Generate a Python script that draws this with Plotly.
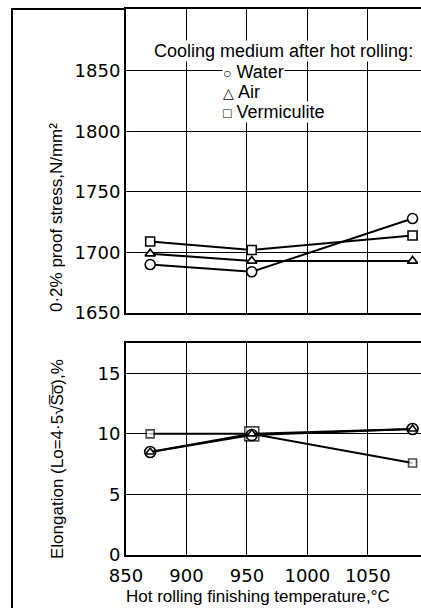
import plotly.graph_objects as go

# ---- data ----
temperature = [870, 954, 1087]

proof_water = [1690, 1684, 1728]
proof_air = [1699, 1693, 1693]
proof_verm = [1709, 1702, 1714]

elong_water = [8.5, 9.9, 10.4]
elong_air = [8.5, 10.0, 10.4]
elong_verm = [10.0, 10.0, 7.6]

x_ticks = [850, 900, 950, 1000, 1050]
proof_ticks = [1650, 1700, 1750, 1800, 1850]
elong_ticks = [0, 5, 10, 15]

legend_title = "Cooling medium after hot rolling:"
legend_symbols = ["○", "△", "□"]
legend_names = ["Water", "Air", "Vermiculite"]

# ---- layout geometry (pixels) ----
W, H = 421, 608
L, R, T, B = 126, 0, 9, 53
PW, PH = W - L - R, H - T - B


def px(xp):
    return (xp - L) / PW


def py(yp):
    return (H - B - yp) / PH


top_dom = [py(313), 1.0]
bot_dom = [0.0, py(343)]

fig = go.Figure()


def add(x, y, symbol, size, xa, ya):
    fig.add_trace(go.Scatter(
        x=x, y=y, mode="lines+markers", xaxis=xa, yaxis=ya,
        line=dict(color="black", width=2),
        marker=dict(symbol=symbol, size=size, color="white",
                    line=dict(color="black", width=1.6)),
        showlegend=False, hoverinfo="skip"))


# top panel
add(temperature, proof_verm, "square", 9, "x", "y")
add(temperature, proof_air, "triangle-up", 9, "x", "y")
add(temperature, proof_water, "circle", 10, "x", "y")
# bottom panel
add(temperature, elong_verm, "square", [8, 14, 8], "x2", "y2")
add(temperature, elong_water, "circle", 11, "x2", "y2")
add(temperature, elong_air, "triangle-up", 8, "x2", "y2")

tickfont = dict(family="DejaVu Sans", size=18, color="black")
axis_common = dict(showline=True, linecolor="black", linewidth=2,
                   showgrid=True, gridcolor="black", gridwidth=1,
                   zeroline=False, ticks="", tickfont=tickfont)

fig.update_layout(
    width=W, height=H,
    margin=dict(l=L, r=R, t=T, b=B, pad=0),
    paper_bgcolor="white", plot_bgcolor="white",
    xaxis=dict(domain=[0, 1], range=[850, 1094], anchor="y",
               tickvals=x_ticks, showticklabels=False, mirror=True,
               **axis_common),
    yaxis=dict(domain=top_dom, range=[1650, 1901], anchor="x",
               tickvals=proof_ticks, **axis_common),
    xaxis2=dict(domain=[0, 1], range=[850, 1094], anchor="y2",
                tickvals=x_ticks, mirror=True, ticklabelstandoff=3,
                **axis_common),
    yaxis2=dict(domain=bot_dom, range=[0, 17.5], anchor="x2",
                tickvals=elong_ticks, **axis_common),
)

legfont = dict(family="Liberation Sans", size=18, color="black")
textfont = dict(family="Liberation Sans", size=17, color="black")
ann = []
ann.append(dict(x=px(283.5), y=py(51), xref="paper", yref="paper",
                text=legend_title, showarrow=False, font=legfont,
                bgcolor="white", xanchor="center", yanchor="middle",
                borderpad=0))
for s, n, yy in zip(legend_symbols, legend_names, [72, 92, 112]):
    ann.append(dict(x=px(222), y=py(yy), xref="paper", yref="paper",
                    text=f"<span style='font-size:14px'>{s}</span> {n}",
                    showarrow=False, font=legfont,
                    bgcolor="white", xanchor="left", yanchor="middle",
                    borderpad=0))
ann.append(dict(x=px(257.5), y=py(596), xref="paper", yref="paper",
                text="Hot rolling finishing temperature,°C", showarrow=False,
                font=textfont, xanchor="center", yanchor="middle"))
ann.append(dict(x=px(57), y=py(218), xref="paper", yref="paper",
                text="0·2% proof stress,N/mm²", showarrow=False,
                font=textfont, textangle=-90,
                xanchor="center", yanchor="middle"))
ann.append(dict(x=px(57), y=py(459), xref="paper", yref="paper",
                text="Elongation (Lo=4·5√S̅o̅),%", showarrow=False,
                font=textfont, textangle=-90,
                xanchor="center", yanchor="middle"))
fig.update_layout(annotations=ann)

# outer frame (left and top border of the figure)
fig.add_shape(type="line", xref="paper", yref="paper",
              x0=px(12), x1=px(12), y0=py(8), y1=py(608),
              line=dict(color="black", width=2))
fig.add_shape(type="line", xref="paper", yref="paper",
              x0=px(12), x1=px(126), y0=py(9), y1=py(9),
              line=dict(color="black", width=2))

fig.write_html("out.html")
